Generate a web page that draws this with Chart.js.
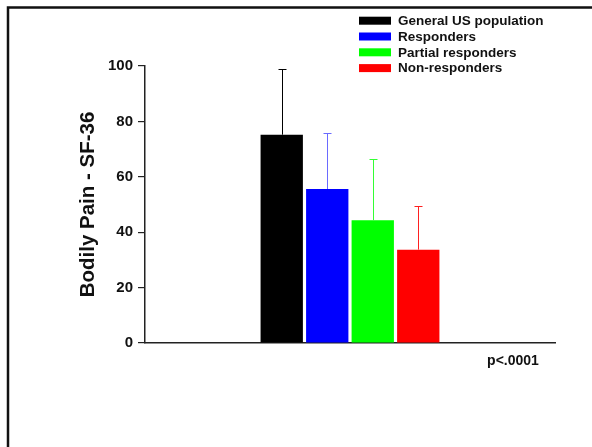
<!DOCTYPE html>
<html>
<head>
<meta charset="utf-8">
<script src="https://cdn.jsdelivr.net/npm/chart.js"></script>
<style>
  html, body { margin: 0; padding: 0; background: #fff; }
  #wrap { width: 592px; height: 447px; }
</style>
</head>
<body>
<div id="wrap"><canvas id="myChart" width="592" height="447"></canvas></div>
<script>
// values
const groups = ['General US population', 'Responders', 'Partial responders', 'Non-responders']
const means = [75.2, 55.6, 44.3, 33.7]
const sd = [23.6, 20.3, 22.0, 15.8]
const barColors = ['#000000', '#0000ff', '#00ff00', '#ff0000']
const errColors = ['#000000', '#6a6aff', '#33ff33', '#ff2020']
const yTicks = [0, 20, 40, 60, 80, 100]
const pLabel = 'p<.0001'

const FONT = "'Liberation Sans', Arial, sans-serif"

// frame lines (top + left edge of the original figure box)
const framePlugin = {
    id: 'frame',
    beforeDraw(chart) {
        const ctx = chart.ctx
        ctx.save()
        ctx.strokeStyle = '#111'
        ctx.lineWidth = 2.5
        ctx.beginPath()
        ctx.moveTo(8, 447)
        ctx.lineTo(8, 7.5)
        ctx.lineTo(592, 7.5)
        ctx.stroke()
        ctx.restore()
    }
}

// one-sided (upper) error bars
const errorBars = {
    id: 'errorBars',
    afterDatasetsDraw(chart) {
        const ctx = chart.ctx
        const y = chart.scales.y
        ctx.save()
        ctx.lineWidth = 1
        chart.data.datasets.forEach((ds, i) => {
            const bar = chart.getDatasetMeta(i).data[0]
            const x = Math.round(bar.x) + 0.5
            const top = Math.round(y.getPixelForValue(means[i] + sd[i])) + 0.5
            ctx.strokeStyle = errColors[i]
            ctx.beginPath()
            ctx.moveTo(x, bar.y)
            ctx.lineTo(x, top)
            ctx.moveTo(x - 4, top)
            ctx.lineTo(x + 4, top)
            ctx.stroke()
        })
        ctx.restore()
    }
}

// legend box in the top right + p value under the axis
const notes = {
    id: 'notes',
    afterDraw(chart) {
        const ctx = chart.ctx
        ctx.save()
        ctx.font = 'bold 13.5px ' + FONT
        ctx.textBaseline = 'middle'
        ctx.textAlign = 'left'
        groups.forEach((g, i) => {
            const cy = 20.7 + i * 15.8
            ctx.fillStyle = barColors[i]
            ctx.fillRect(359, cy - 4, 32, 8)
            ctx.fillStyle = '#111'
            ctx.fillText(g, 398, cy + 0.5)
        })
        ctx.font = 'bold 14px ' + FONT
        ctx.textAlign = 'center'
        ctx.fillText(pLabel, 513, 361)
        ctx.restore()
    }
}

const data = {
    labels: [''],
    datasets: groups.map((g, i) => ({
        label: g,
        data: [means[i]],
        backgroundColor: barColors[i],
        borderWidth: 0
    }))
}

const config = {
    type: 'bar',
    data: data,
    options: {
        responsive: false,
        animation: false,
        categoryPercentage: 0.444,
        barPercentage: 0.93,
        layout: { padding: { left: 0, top: 66, right: 37, bottom: 104 } },
        plugins: {
            legend: { display: false },
            tooltip: { enabled: false }
        },
        scales: {
            x: {
                grid: { display: false },
                ticks: { display: false },
                border: { display: true, color: '#222', width: 1.5 },
                afterFit: (s) => { s.height = 0 }
            },
            y: {
                min: 0,
                max: 100,
                afterBuildTicks: (s) => { s.ticks = yTicks.map(v => ({ value: v })) },
                grid: {
                    drawOnChartArea: false,
                    drawTicks: true,
                    tickLength: 7,
                    color: '#222',
                    lineWidth: 1.2
                },
                border: { display: true, color: '#222', width: 1.5 },
                ticks: {
                    color: '#111',
                    padding: 5,
                    font: { family: FONT, size: 15, weight: 'bold' }
                },
                title: {
                    display: true,
                    text: 'Bodily Pain - SF-36',
                    color: '#111',
                    padding: { top: 76, bottom: 0 },
                    font: { family: FONT, size: 20.5, weight: 'bold' }
                },
                afterFit: (s) => { s.width = 145 }
            }
        }
    },
    plugins: [framePlugin, errorBars, notes]
}

const myChart = new Chart(document.getElementById('myChart'), config)
</script>
</body>
</html>
